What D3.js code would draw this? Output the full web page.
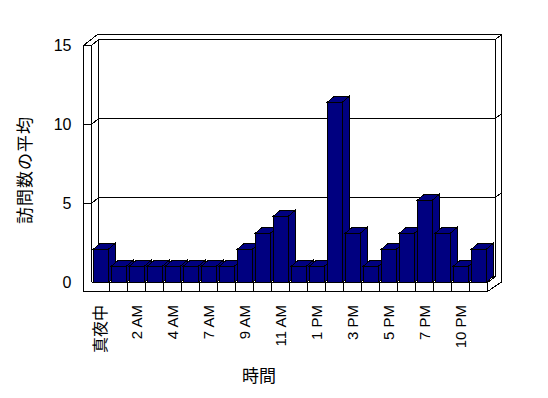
<!DOCTYPE html>
<html>
<head>
<meta charset="utf-8">
<script src="https://cdn.jsdelivr.net/npm/d3@7"></script>
<style>
  body { margin: 0; background: #fff; }
  svg { display: block; }
  text { font-family: "Liberation Sans", Arial, "Noto Sans CJK JP", sans-serif; fill: #000; }
</style>
</head>
<body>
<div id="vis"></div>
<script>
// data
const hours = ["真夜中", "1 AM", "2 AM", "3 AM", "4 AM", "5 AM", "7 AM", "8 AM", "9 AM", "10 AM", "11 AM",
               "正午", "1 PM", "2 PM", "3 PM", "4 PM", "5 PM", "6 PM", "7 PM", "8 PM", "10 PM", "11 PM"];
const visits = [2, 1, 1, 1, 1, 1, 1, 1, 2, 3, 4, 1, 1, 11, 3, 1, 2, 3, 5, 3, 1, 2];
const yTicks = [0, 5, 10, 15];
const yTitle = "訪問数の平均";
const xTitle = "時間";

const width = 548, height = 398;
const navy = "#000080";

// box geometry (oblique 3d look)
const wallL = 83.5, wallL2 = 91.5, backL = 98.5, backR = 495.5, outerR = 501.5;
const dx = 7, dy = -6;        // depth of wall plates / bars
const floorTop = 282, floorBot = 291.5;

const svg = d3.select("#vis").append("svg")
    .attr("width", width).attr("height", height);

const x = d3.scaleBand().domain(hours).range([wallL2, wallL2 + 18 * hours.length]).padding(0);
const yAx = d3.scaleLinear().domain([0, 15]).range([floorTop + 0.5, 45.5]);   // front axis
const yBar = d3.scaleLinear().domain([0, 15]).range([floorTop, floorTop - 15 * 16.4]); // bars (perspective)

const line = d3.line();
const box = svg.append("g").attr("fill", "none").attr("stroke", "#000").attr("stroke-width", 1)
  .attr("shape-rendering", "crispEdges");

const yTop = yAx(15), topBack = yTop + dy - 5;
const backTop = yTop + dy;
const floorR = x.range()[1];

// outline + walls
box.append("path").attr("fill", "#fff").attr("d", line([
  [wallL, yTop], [backL - 1, topBack], [outerR, topBack], [outerR, floorTop],
  [floorR, floorBot], [wallL, floorBot]]) + "Z");
box.append("path").attr("d", line([[wallL, yTop], [wallL2, yTop], [wallL2, floorTop]]));
box.append("path").attr("d", line([[wallL2, yTop], [backL, backTop], [backR, backTop], [outerR, topBack]]));
box.append("path").attr("d", line([[backR, backTop], [backR, yAx(0) + dy]]));
box.append("path").attr("d", line([[backL, backTop], [backL, yAx(0) + dy]]));
box.append("path").attr("d", line([[backL, yAx(0) + dy], [backR, yAx(0) + dy]]));

// gridlines on back wall + ticks on left wall
yTicks.filter(v => v > 0 && v < 15).forEach(v => {
  const yf = yAx(v), yb = yf + dy;
  box.append("path").attr("d", line([[wallL, yf], [wallL2, yf], [backL, yb], [backR, yb], [outerR, yb - 5]]));
});

// floor plate
box.append("path").attr("d", line([[wallL2, floorTop + 0.5], [floorR, floorTop + 0.5], [floorR, floorBot]]));
box.append("path").attr("d", line([[floorR, floorTop + 0.5], [backR, yAx(0) + dy]]));
box.selectAll(".cell").data(hours.slice(1)).enter().append("path")
  .attr("d", d => line([[x(d), floorTop], [x(d), floorBot]]));

// bars
const bars = svg.append("g").attr("stroke", "#000").attr("stroke-width", 1).attr("fill", navy)
  .attr("shape-rendering", "crispEdges");
hours.forEach((h, i) => {
  const x0 = x(h) + 1.5, x1 = x0 + 15, t = Math.round(yBar(visits[i])) + 0.5, b = yBar(0) + 0.5;
  const g = bars.append("g");
  g.append("path").attr("d", line([[x1, t], [x1 + dx, t + dy], [x1 + dx, b + dy], [x1, b]]) + "Z");
  g.append("path").attr("d", line([[x0, t], [x0 + dx, t + dy], [x1 + dx, t + dy], [x1, t]]) + "Z");
  g.append("rect").attr("x", x0).attr("y", t).attr("width", x1 - x0).attr("height", b - t);
});

// y axis labels
const ya = svg.append("g").attr("transform", `translate(${wallL},0)`)
  .call(d3.axisLeft(yAx).tickValues(yTicks).tickSize(0).tickPadding(12));
ya.select(".domain").remove();
ya.selectAll("text").attr("font-size", 16).attr("font-family", null).attr("fill", "#000");

// x axis labels, every other hour, rotated
svg.append("g").selectAll("text").data(hours.filter((d, i) => i % 2 === 0)).enter().append("text")
  .attr("transform", d => `translate(${x(d) + x.bandwidth() / 2},305) rotate(-90)`)
  .attr("text-anchor", "end").attr("dominant-baseline", "central")
  .attr("fill", "#000")
  .attr("font-size", d => /[^\x00-\x7f]/.test(d) ? 16 : 15)
  .text(d => d);

// titles
svg.append("text").attr("transform", "translate(25,170) rotate(-90)")
  .attr("text-anchor", "middle").attr("dominant-baseline", "central")
  .attr("font-size", 17).attr("letter-spacing", 1).attr("fill", "#000").text(yTitle);
svg.append("text").attr("x", 259).attr("y", 376)
  .attr("text-anchor", "middle").attr("dominant-baseline", "central")
  .attr("font-size", 17).attr("fill", "#000").text(xTitle);
</script>
</body>
</html>
